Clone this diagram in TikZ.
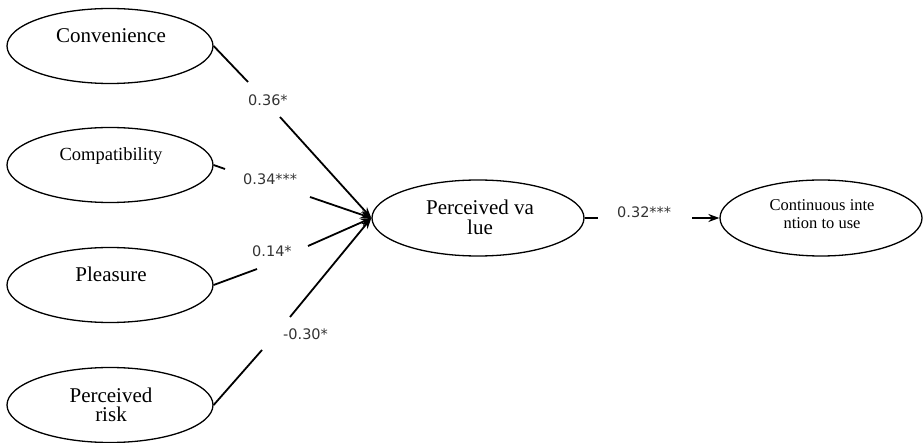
\documentclass[tikz,border=0pt]{standalone}
\usepackage{fontspec}
\setmainfont{Liberation Serif}
\newfontfamily\labfont{DejaVu Sans}
\usetikzlibrary{shapes.geometric,arrows.meta}
\begin{document}
\begin{tikzpicture}[x=1pt,y=-1pt,
  oval/.style={draw=black,line width=1.3pt,ellipse,minimum width=206pt,minimum height=75pt,inner sep=0pt},
  sertext/.style={anchor=base,inner sep=0pt,font=\fontsize{21}{21}\selectfont},
  coef/.style={anchor=base west,inner sep=0pt,text=black!80,font=\labfont\fontsize{14.5}{14.5}\selectfont},
  conn/.style={line width=1.8pt,black},
  arr/.style={conn,-{Stealth[length=11pt,width=8pt]}}]
\useasboundingbox (0,0) rectangle (923,443);
% ellipses
\node[oval] (conv) at (110,46) {};
\node[oval] (comp) at (110,165) {};
\node[oval] (pleas) at (110,285) {};
\node[oval] (risk) at (110,405) {};
\node[oval,minimum width=212pt,minimum height=76pt] (pv) at (478,218) {};
\node[oval,minimum width=202pt,minimum height=76pt] (cont) at (821,218) {};
% texts
\node[sertext] (tconv) at (111,43) {Convenience};
\node[sertext,font=\fontsize{18.5}{18.5}\selectfont] (tcomp) at (111,161) {Compatibility};
\node[sertext] (tpleas) at (111,282) {Pleasure};
\node[sertext] (trisk1) at (111,402) {Perceived};
\node[sertext] (trisk2) at (111,421) {risk};
\node[sertext] (tpv1) at (480,215) {Perceived va};
\node[sertext] (tpv2) at (480,235) {lue};
\node[sertext,font=\fontsize{16.5}{16.5}\selectfont] (tc1) at (822,211) {Continuous inte};
\node[sertext,font=\fontsize{16.5}{16.5}\selectfont] (tc2) at (822,229) {ntion to use};
% coefficient labels
\node[coef] (l1) at (248,106) {0.36*};
\node[coef] (l2) at (243,185) {0.34***};
\node[coef] (l3) at (252,257) {0.14*};
\node[coef] (l4) at (283,340) {-0.30*};
\node[coef] (l5) at (617,218) {0.32***};
% gap ends
\coordinate (c1a) at (248,82);  \coordinate (c1b) at (280,117);
\coordinate (c2a) at (225,169); \coordinate (c2b) at (310,197);
\coordinate (c3a) at (257,269); \coordinate (c3b) at (308,246);
\coordinate (c4a) at (262,350); \coordinate (c4b) at (290,317);
\coordinate (c5a) at (598,218); \coordinate (c5b) at (692,218);
% connectors
\draw[conn] (conv.east) -- (c1a);
\draw[arr] (c1b) -- (pv.west);
\draw[conn] (comp.east) -- (c2a);
\draw[arr] (c2b) -- (pv.west);
\draw[conn] (pleas.east) -- (c3a);
\draw[arr] (c3b) -- (pv.west);
\draw[conn] (risk.east) -- (c4a);
\draw[arr] (c4b) -- (pv.west);
\draw[conn] (pv.east) -- (c5a);
\draw[arr] (c5b) -- (cont.west);
\end{tikzpicture}
\end{document}
